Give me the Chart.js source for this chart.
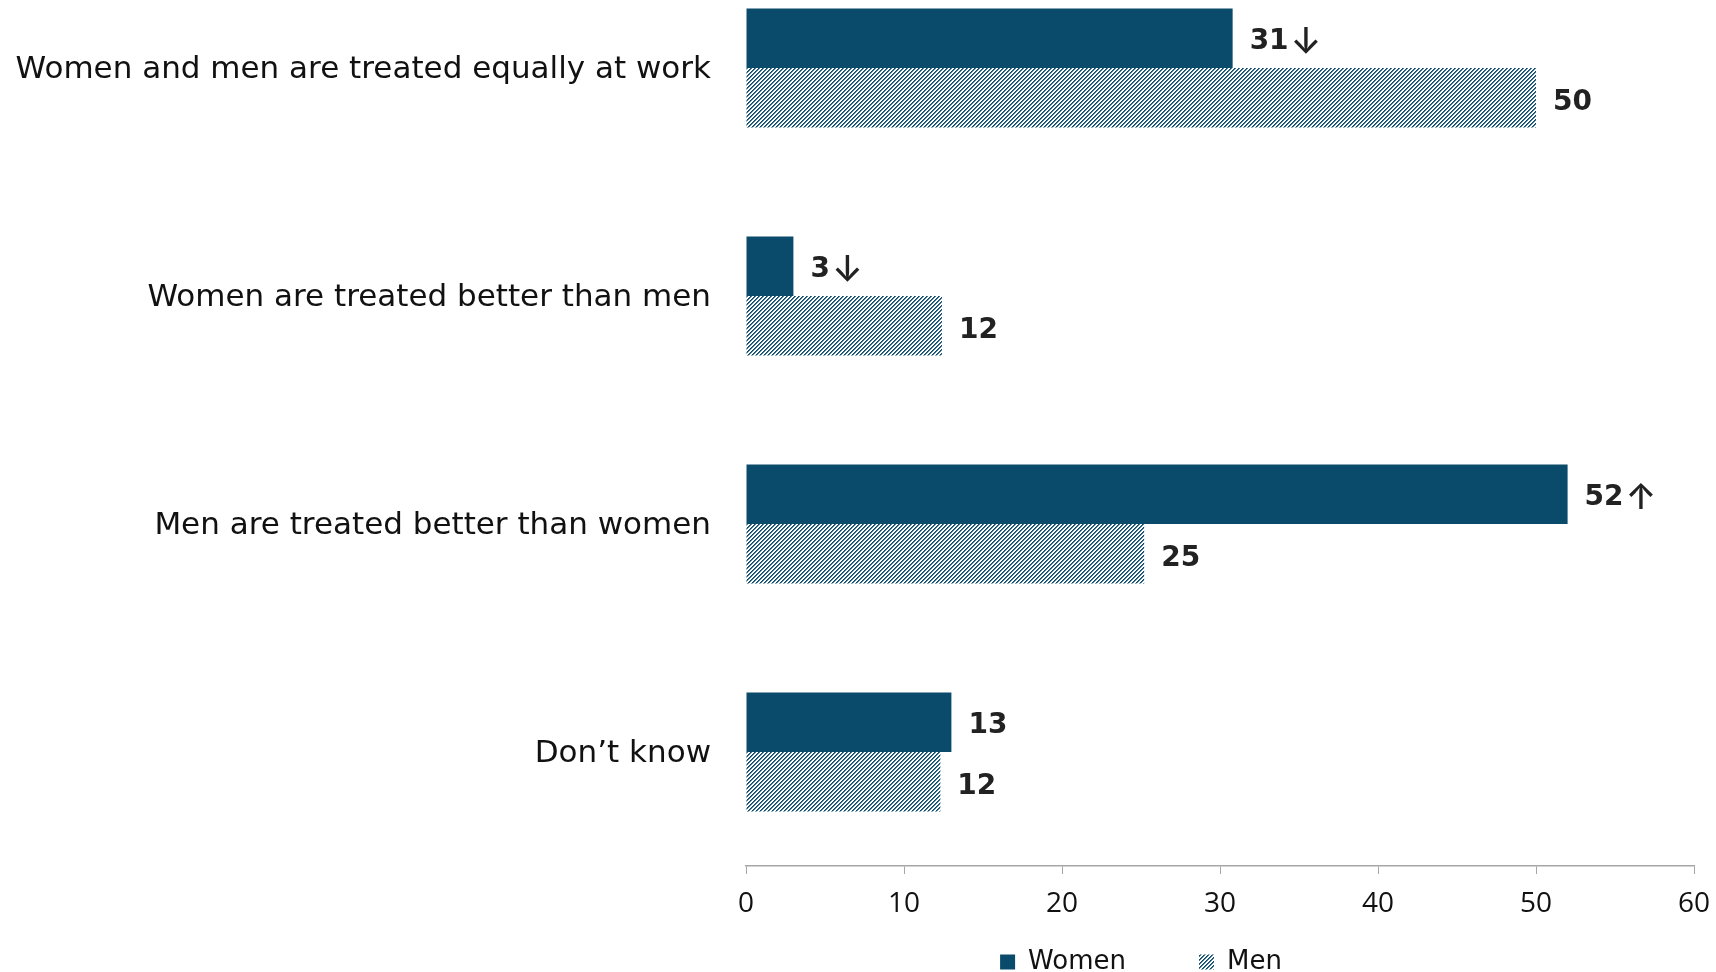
<!DOCTYPE html>
<html>
<head>
<meta charset="utf-8">
<script src="https://cdn.jsdelivr.net/npm/chart.js@4"></script>
<style>
  html, body { margin: 0; padding: 0; background: #fff; overflow: hidden; }
  #wrap { position: absolute; left: 0; top: -46px; width: 1716px; height: 1018px; }
</style>
</head>
<body>
<div id="wrap"><canvas id="chart"></canvas></div>
<script>
// Data
const categories = [
    'Women and men are treated equally at work',
    'Women are treated better than men',
    'Men are treated better than women',
    'Don\u2019t know'
];
const womenValues = [30.8, 3, 52, 13];
const menValues = [50, 12.4, 25.2, 12.3];
// change markers shown after the women's values
const womenArrows = ['\u2193', '\u2193', '\u2191', ''];
const menArrows = ['', '', '', ''];
const xTicks = [0, 10, 20, 30, 40, 50, 60];

const navy = '#0a4a6b';

// Hatched fill for the men's bars
function makeHatch() {
    const c = document.createElement('canvas');
    c.width = 4;
    c.height = 4;
    const g = c.getContext('2d');
    g.fillStyle = '#ffffff';
    g.fillRect(0, 0, 4, 4);
    for (let y = 0; y < 4; y++) {
        for (let x = 0; x < 4; x++) {
            const k = (x + y) % 4;
            if (k === 0) g.fillStyle = navy;
            else if (k === 1) g.fillStyle = 'rgba(10,74,107,0.75)';
            else continue;
            g.fillRect(x, y, 1, 1);
        }
    }
    return g.createPattern(c, 'repeat');
}

// Value labels at the end of each bar
const valueLabels = {
    id: 'valueLabels',
    afterDatasetsDraw(chart) {
        const ctx = chart.ctx;
        const arrows = [womenArrows, menArrows];
        const dy = [3, 5];
        ctx.save();
        ctx.textBaseline = 'middle';
        ctx.fillStyle = '#222';
        chart.data.datasets.forEach((ds, i) => {
            chart.getDatasetMeta(i).data.forEach((bar, j) => {
                const x = bar.x + 17;
                const y = bar.y + dy[i];
                ctx.font = "bold 28px 'DejaVu Sans'";
                const txt = String(Math.round(ds.data[j]));
                ctx.fillText(txt, x, y);
                if (arrows[i][j]) {
                    const w = ctx.measureText(txt).width;
                    ctx.font = "500 36px Inter, 'DejaVu Sans'";
                    ctx.fillText(arrows[i][j], x + w + 2, y + 1);
                }
            });
        });
        ctx.restore();
    }
};

// put the legend under the bars, below the tick labels
const legendPlace = {
    id: 'legendPlace',
    afterLayout(chart) {
        chart.legend.left = 588;
        chart.legend.top = 922;
    }
};

Chart.defaults.font.family = "'DejaVu Sans', sans-serif";
Chart.defaults.color = '#111';

const ctx = document.getElementById('chart').getContext('2d');
const hatch = makeHatch();

new Chart(ctx, {
    type: 'bar',
    data: {
        labels: categories,
        datasets: [{
            label: 'Women',
            data: womenValues,
            backgroundColor: navy,
            borderWidth: 0,
            categoryPercentage: 0.522,
            barPercentage: 1
        }, {
            label: 'Men',
            data: menValues,
            backgroundColor: hatch,
            borderWidth: 0,
            categoryPercentage: 0.522,
            barPercentage: 1
        }]
    },
    options: {
        indexAxis: 'y',
        responsive: true,
        maintainAspectRatio: false,
        animation: false,
        devicePixelRatio: 1,
        layout: { padding: { left: 0, right: 22, top: 0, bottom: 0 } },
        scales: {
            x: {
                min: 0,
                max: 60,
                afterBuildTicks: (scale) => { scale.ticks = xTicks.map(v => ({ value: v })); },
                afterFit: (scale) => {
                    scale.height = 60;
                    scale.paddingLeft = 0;
                    scale.paddingRight = 0;
                },
                grid: { drawOnChartArea: false, drawTicks: true, tickLength: 8, color: '#a6a6a6' },
                border: { display: true, color: '#a6a6a6', width: 1.5 },
                ticks: {
                    padding: 13,
                    font: { size: 28, family: "'Liberation Sans Narrow', 'Open Sans', sans-serif" },
                    color: '#111'
                }
            },
            y: {
                afterFit: (scale) => {
                    scale.width = 746;
                    scale.paddingTop = 0;
                    scale.paddingBottom = 0;
                },
                grid: { display: false, drawTicks: false },
                border: { display: false },
                ticks: { padding: 35, labelOffset: 2, font: { size: 31 }, color: '#111' }
            }
        },
        plugins: {
            legend: {
                position: 'bottom',
                maxHeight: 46,
                labels: {
                    boxWidth: 15,
                    boxHeight: 15,
                    padding: 73,
                    font: { size: 26 },
                    color: '#111'
                }
            },
            tooltip: { enabled: false }
        }
    },
    plugins: [valueLabels, legendPlace]
});
</script>
</body>
</html>
